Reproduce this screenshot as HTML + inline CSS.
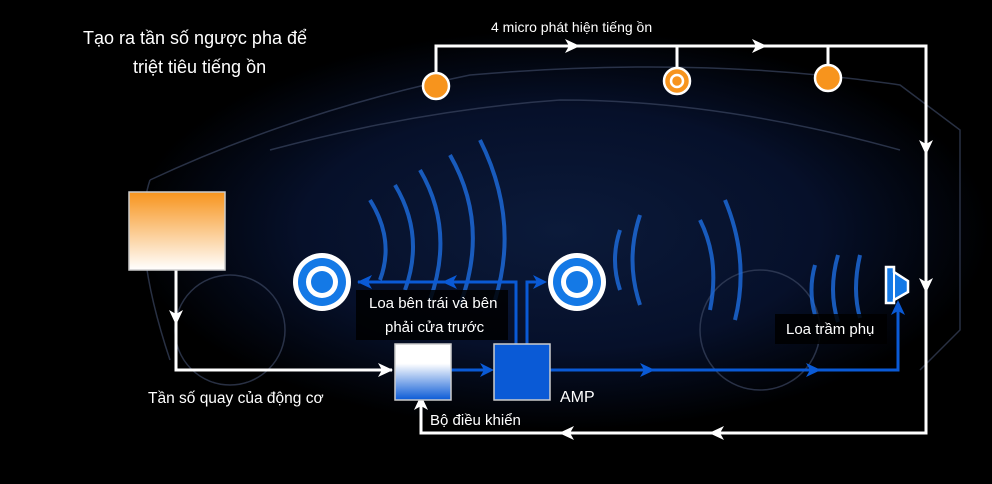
<!DOCTYPE html>
<html><head><meta charset="utf-8"><style>
html,body{margin:0;padding:0;background:#000;}
svg{display:block}
text{font-family:"Liberation Sans",sans-serif;fill:#fff;}
</style></head><body>
<svg width="992" height="484" viewBox="0 0 992 484" xmlns="http://www.w3.org/2000/svg">
<defs>
<radialGradient id="bg" cx="0.5" cy="0.5" r="0.5">
<stop offset="0" stop-color="#0b1a3a"/><stop offset="0.6" stop-color="#06102a"/><stop offset="1" stop-color="#000"/>
</radialGradient>
<linearGradient id="og" x1="0" y1="0" x2="0" y2="1"><stop offset="0" stop-color="#f7941d"/><stop offset="1" stop-color="#fff"/></linearGradient>
<linearGradient id="cg" x1="0" y1="0" x2="0" y2="1"><stop offset="0" stop-color="#fff"/><stop offset="0.35" stop-color="#fff"/><stop offset="1" stop-color="#0a5ad6"/></linearGradient>
</defs>
<rect width="992" height="484" fill="#000"/>
<ellipse cx="560" cy="230" rx="430" ry="200" fill="url(#bg)"/>
<g fill="none" stroke="#3a4560" stroke-width="1.5" opacity="0.7">
<path d="M150 180 Q300 110 470 75 Q700 55 900 85 L960 130 L960 330 L920 370"/>
<path d="M150 180 Q130 240 170 360"/>
<path d="M270 150 Q420 110 560 100 Q720 100 900 150"/>
<circle cx="230" cy="330" r="55"/><circle cx="760" cy="330" r="60"/>
</g>
<g fill="none" stroke="#1d6de0" stroke-width="4" opacity="0.8">
<path d="M370 200 Q395 240 380 280"/><path d="M395 185 Q425 235 405 290"/>
<path d="M420 170 Q455 230 430 300"/><path d="M450 155 Q490 225 460 305"/>
<path d="M480 140 Q520 220 495 300"/>
<path d="M620 230 Q610 260 620 290"/><path d="M640 215 Q625 260 640 305"/>
<path d="M700 220 Q720 260 710 310"/><path d="M725 200 Q750 260 735 320"/>
<path d="M815 265 Q808 290 815 315"/><path d="M838 255 Q828 290 838 322"/>
<path d="M860 255 Q852 290 860 318"/>
</g>
<g stroke="#fff" stroke-width="3" fill="none">
<polyline points="436,86 436,46 926,46 926,433 421,433 421,404"/>
<line x1="677" y1="46" x2="677" y2="70"/>
<line x1="828" y1="46" x2="828" y2="66"/>
<polyline points="176,270 176,370 392,370"/>
</g>
<g fill="#fff">
<polygon points="565,39 580,46 565,53 569,46"/>
<polygon points="752,39 767,46 752,53 756,46"/>
<polygon points="919,140 926,155 933,140 926,144"/>
<polygon points="919,278 926,293 933,278 926,282"/>
<polygon points="724,426 709,433 724,440 720,433"/>
<polygon points="574,426 559,433 574,440 570,433"/>
<polygon points="414,410 421,395 428,410 421,406"/>
<polygon points="169,310 176,325 183,310 176,314"/>
<polygon points="378,363 393,370 378,377 382,370"/>
</g>
<g stroke="#0a5ad6" stroke-width="3" fill="none">
<line x1="451" y1="370" x2="490" y2="370"/>
<polyline points="550,370 898,370 898,305"/>
<polyline points="516,344 516,282 358,282"/>
<polyline points="527,344 527,282 538,282"/>
</g>
<g fill="#0a5ad6">
<polygon points="480,363 494,370 480,377 484,370"/>
<polygon points="640,363 655,370 640,377 644,370"/>
<polygon points="806,363 821,370 806,377 810,370"/>
<polygon points="891,315 898,300 905,315 898,311"/>
<polygon points="372,275 357,282 372,289 368,282"/>
<polygon points="457,275 442,282 457,289 453,282"/>
<polygon points="533,275 547,282 533,289 537,282"/>
</g>
<circle cx="436" cy="86" r="13" fill="#f7941d" stroke="#fff" stroke-width="2.5"/>
<circle cx="677" cy="81" r="13" fill="#f7941d" stroke="#fff" stroke-width="2.5"/>
<circle cx="677" cy="81" r="6" fill="none" stroke="#fff" stroke-width="2.5"/>
<circle cx="828" cy="78" r="13" fill="#f7941d" stroke="#fff" stroke-width="2.5"/>
<circle cx="322" cy="282" r="29" fill="#fff"/><circle cx="322" cy="282" r="24" fill="#1479e6"/>
<circle cx="322" cy="282" r="16" fill="#fff"/><circle cx="322" cy="282" r="11" fill="#1479e6"/>
<circle cx="577" cy="282" r="29" fill="#fff"/><circle cx="577" cy="282" r="24" fill="#1479e6"/>
<circle cx="577" cy="282" r="16" fill="#fff"/><circle cx="577" cy="282" r="11" fill="#1479e6"/>
<path d="M886 267 L894 267 L894 272 L908 281 L908 292 L894 300 L894 303 L886 303 Z" fill="#1479e6" stroke="#fff" stroke-width="2.5"/>
<line x1="894" y1="268" x2="894" y2="302" stroke="#fff" stroke-width="2"/>
<rect x="129" y="192" width="96" height="78" fill="url(#og)" stroke="#ccc" stroke-width="1.5"/>
<rect x="395" y="344" width="56" height="56" fill="url(#cg)" stroke="#ccc" stroke-width="1.5"/>
<rect x="494" y="344" width="56" height="56" fill="#0a5ad6" stroke="#ccc" stroke-width="1.5"/>
<rect x="356" y="290" width="152" height="50" fill="#000" opacity="0.85"/>
<rect x="775" y="314" width="112" height="30" fill="#000" opacity="0.85"/>
<text x="83" y="44" font-size="18">Tạo ra tần số ngược pha để</text>
<text x="133" y="73" font-size="18">triệt tiêu tiếng ồn</text>
<text x="491" y="32" font-size="14">4 micro phát hiện tiếng ồn</text>
<text x="369" y="308" font-size="15">Loa bên trái và bên</text>
<text x="385" y="332" font-size="15">phải cửa trước</text>
<text x="786" y="334" font-size="15">Loa trầm phụ</text>
<text x="148" y="403" font-size="15.5">Tần số quay của động cơ</text>
<text x="430" y="425" font-size="15">Bộ điều khiển</text>
<text x="560" y="402" font-size="16">AMP</text>
</svg>
</body></html>
